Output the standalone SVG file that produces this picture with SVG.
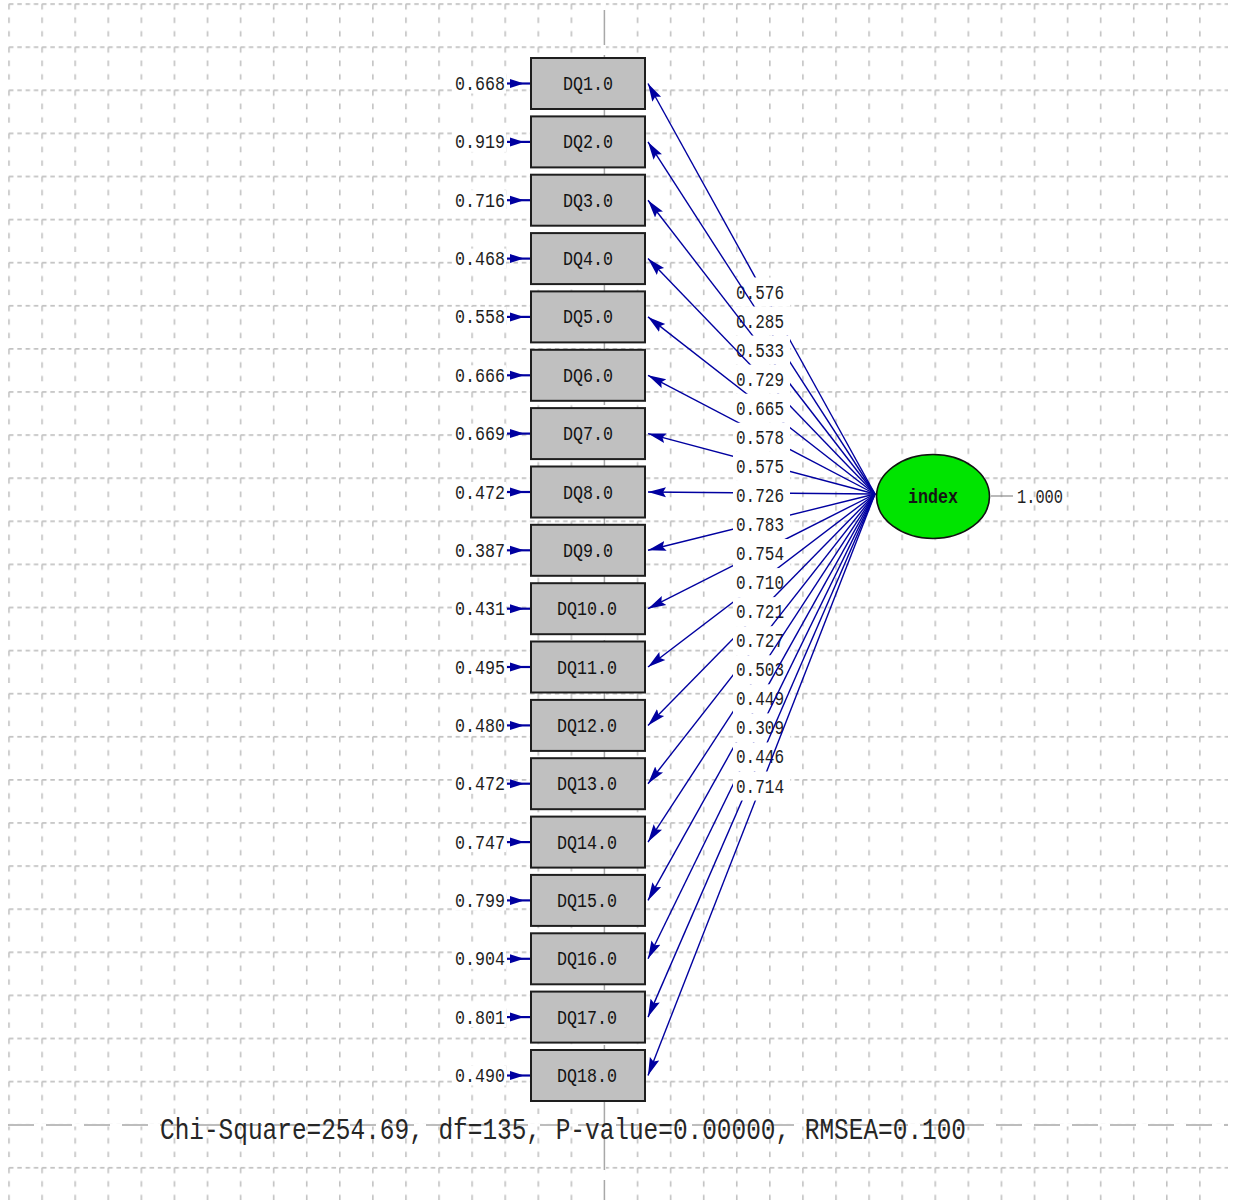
<svg xmlns="http://www.w3.org/2000/svg" width="1236" height="1200" viewBox="0 0 1236 1200">
<defs>
<style>
.g{fill:none;stroke:#c2c2c2;stroke-width:1.6}
.ax{fill:none;stroke:#a8a8a8;stroke-width:1.5}
.ln{stroke:#0000a0;stroke-width:1.4;fill:none}
.lb{fill:#ffffff}
.t{font-family:"Liberation Mono","DejaVu Sans Mono",monospace;font-size:20px;fill:#1e1e1e}
.bt{font-family:"Liberation Mono","DejaVu Sans Mono",monospace;font-size:20px;fill:#141414;text-anchor:middle}
.box{fill:#c0c0c0;stroke:#1e1e1e;stroke-width:2}
.err{stroke:#0000a0;stroke-width:2.2}
.eh{fill:#0000a0}
</style>
<pattern id="grid" patternUnits="userSpaceOnUse" x="8.2" y="3.2" width="33.08" height="43.1">
<path class="g" d="M0.8,0.8h4.5M9.07,0.8h4.5M17.34,0.8h4.5M25.61,0.8h4.5M0.8,0.8v5.5M0.8,14.3v5.5M0.8,27.8v5.5"/>
</pattern>
<marker id="ah" markerUnits="userSpaceOnUse" markerWidth="20" markerHeight="12" refX="18" refY="6" orient="auto" viewBox="0 0 20 12">
<path d="M0,1 L18,6 L0,11 L3,6 z" fill="#0000a0"/>
</marker>
</defs>
<rect width="1236" height="1200" fill="#ffffff"/>
<g id="grid-bg">
<rect x="8" y="3" width="1220" height="1197" fill="url(#grid)"/>
<path d="M604.4,0V1200M0,1125H1236" stroke="#ffffff" stroke-width="3" fill="none"/>
<path class="ax" d="M604.4,10V1200" stroke-dasharray="35 10"/>
<path class="ax" d="M8,1125H1228" stroke-dasharray="26 12"/>
</g>
<g id="connectors">
<g id="path-DQ1"><line class="ln" x1="875" y1="494" x2="648" y2="83.5" marker-end="url(#ah)"/><rect class="lb" x="733" y="277.47" width="57" height="29.06"/><text class="t" x="736" y="298.5" textLength="48" lengthAdjust="spacingAndGlyphs">0.576</text></g>
<g id="path-DQ2"><line class="ln" x1="875" y1="494" x2="648" y2="141.9" marker-end="url(#ah)"/><rect class="lb" x="733" y="306.53" width="57" height="29.06"/><text class="t" x="736" y="327.56" textLength="48" lengthAdjust="spacingAndGlyphs">0.285</text></g>
<g id="path-DQ3"><line class="ln" x1="875" y1="494" x2="648" y2="200.2" marker-end="url(#ah)"/><rect class="lb" x="733" y="335.59" width="57" height="29.06"/><text class="t" x="736" y="356.62" textLength="48" lengthAdjust="spacingAndGlyphs">0.533</text></g>
<g id="path-DQ4"><line class="ln" x1="875" y1="494" x2="648" y2="258.6" marker-end="url(#ah)"/><rect class="lb" x="733" y="364.65" width="57" height="29.06"/><text class="t" x="736" y="385.68" textLength="48" lengthAdjust="spacingAndGlyphs">0.729</text></g>
<g id="path-DQ5"><line class="ln" x1="875" y1="494" x2="648" y2="316.9" marker-end="url(#ah)"/><rect class="lb" x="733" y="393.71" width="57" height="29.06"/><text class="t" x="736" y="414.74" textLength="48" lengthAdjust="spacingAndGlyphs">0.665</text></g>
<g id="path-DQ6"><line class="ln" x1="875" y1="494" x2="648" y2="375.3" marker-end="url(#ah)"/><rect class="lb" x="733" y="422.77" width="57" height="29.06"/><text class="t" x="736" y="443.8" textLength="48" lengthAdjust="spacingAndGlyphs">0.578</text></g>
<g id="path-DQ7"><line class="ln" x1="875" y1="494" x2="648" y2="433.6" marker-end="url(#ah)"/><rect class="lb" x="733" y="451.83" width="57" height="29.06"/><text class="t" x="736" y="472.86" textLength="48" lengthAdjust="spacingAndGlyphs">0.575</text></g>
<g id="path-DQ8"><line class="ln" x1="875" y1="494" x2="648" y2="492" marker-end="url(#ah)"/><rect class="lb" x="733" y="480.89" width="57" height="29.06"/><text class="t" x="736" y="501.92" textLength="48" lengthAdjust="spacingAndGlyphs">0.726</text></g>
<g id="path-DQ9"><line class="ln" x1="875" y1="494" x2="648" y2="550.3" marker-end="url(#ah)"/><rect class="lb" x="733" y="509.95" width="57" height="29.06"/><text class="t" x="736" y="530.98" textLength="48" lengthAdjust="spacingAndGlyphs">0.783</text></g>
<g id="path-DQ10"><line class="ln" x1="875" y1="494" x2="648" y2="608.7" marker-end="url(#ah)"/><rect class="lb" x="733" y="539.01" width="57" height="29.06"/><text class="t" x="736" y="560.04" textLength="48" lengthAdjust="spacingAndGlyphs">0.754</text></g>
<g id="path-DQ11"><line class="ln" x1="875" y1="494" x2="648" y2="667" marker-end="url(#ah)"/><rect class="lb" x="733" y="568.07" width="57" height="29.06"/><text class="t" x="736" y="589.1" textLength="48" lengthAdjust="spacingAndGlyphs">0.710</text></g>
<g id="path-DQ12"><line class="ln" x1="875" y1="494" x2="648" y2="725.4" marker-end="url(#ah)"/><rect class="lb" x="733" y="597.13" width="57" height="29.06"/><text class="t" x="736" y="618.16" textLength="48" lengthAdjust="spacingAndGlyphs">0.721</text></g>
<g id="path-DQ13"><line class="ln" x1="875" y1="494" x2="648" y2="783.7" marker-end="url(#ah)"/><rect class="lb" x="733" y="626.19" width="57" height="29.06"/><text class="t" x="736" y="647.22" textLength="48" lengthAdjust="spacingAndGlyphs">0.727</text></g>
<g id="path-DQ14"><line class="ln" x1="875" y1="494" x2="648" y2="842.1" marker-end="url(#ah)"/><rect class="lb" x="733" y="655.25" width="57" height="29.06"/><text class="t" x="736" y="676.28" textLength="48" lengthAdjust="spacingAndGlyphs">0.503</text></g>
<g id="path-DQ15"><line class="ln" x1="875" y1="494" x2="648" y2="900.4" marker-end="url(#ah)"/><rect class="lb" x="733" y="684.31" width="57" height="29.06"/><text class="t" x="736" y="705.34" textLength="48" lengthAdjust="spacingAndGlyphs">0.449</text></g>
<g id="path-DQ16"><line class="ln" x1="875" y1="494" x2="648" y2="958.8" marker-end="url(#ah)"/><rect class="lb" x="733" y="713.37" width="57" height="29.06"/><text class="t" x="736" y="734.4" textLength="48" lengthAdjust="spacingAndGlyphs">0.309</text></g>
<g id="path-DQ17"><line class="ln" x1="875" y1="494" x2="648" y2="1017.1" marker-end="url(#ah)"/><rect class="lb" x="733" y="742.43" width="57" height="29.06"/><text class="t" x="736" y="763.46" textLength="48" lengthAdjust="spacingAndGlyphs">0.446</text></g>
<g id="path-DQ18"><line class="ln" x1="875" y1="494" x2="648" y2="1075.5" marker-end="url(#ah)"/><rect class="lb" x="733" y="771.49" width="57" height="29.06"/><text class="t" x="736" y="792.52" textLength="48" lengthAdjust="spacingAndGlyphs">0.714</text></g>
<g id="errors">
<g id="err-DQ1"><rect class="lb" x="453" y="73.5" width="53" height="20"/><text class="t" x="505" y="90" text-anchor="end" textLength="50" lengthAdjust="spacingAndGlyphs">0.668</text><line class="err" x1="507" y1="83.5" x2="530" y2="83.5"/><polygon class="eh" points="510,79 524,83.5 510,88"/></g>
<g id="err-DQ2"><rect class="lb" x="453" y="131.9" width="53" height="20"/><text class="t" x="505" y="148.4" text-anchor="end" textLength="50" lengthAdjust="spacingAndGlyphs">0.919</text><line class="err" x1="507" y1="141.9" x2="530" y2="141.9"/><polygon class="eh" points="510,137.4 524,141.9 510,146.4"/></g>
<g id="err-DQ3"><rect class="lb" x="453" y="190.2" width="53" height="20"/><text class="t" x="505" y="206.7" text-anchor="end" textLength="50" lengthAdjust="spacingAndGlyphs">0.716</text><line class="err" x1="507" y1="200.2" x2="530" y2="200.2"/><polygon class="eh" points="510,195.7 524,200.2 510,204.7"/></g>
<g id="err-DQ4"><rect class="lb" x="453" y="248.6" width="53" height="20"/><text class="t" x="505" y="265.1" text-anchor="end" textLength="50" lengthAdjust="spacingAndGlyphs">0.468</text><line class="err" x1="507" y1="258.6" x2="530" y2="258.6"/><polygon class="eh" points="510,254.1 524,258.6 510,263.1"/></g>
<g id="err-DQ5"><rect class="lb" x="453" y="306.9" width="53" height="20"/><text class="t" x="505" y="323.4" text-anchor="end" textLength="50" lengthAdjust="spacingAndGlyphs">0.558</text><line class="err" x1="507" y1="316.9" x2="530" y2="316.9"/><polygon class="eh" points="510,312.4 524,316.9 510,321.4"/></g>
<g id="err-DQ6"><rect class="lb" x="453" y="365.3" width="53" height="20"/><text class="t" x="505" y="381.8" text-anchor="end" textLength="50" lengthAdjust="spacingAndGlyphs">0.666</text><line class="err" x1="507" y1="375.3" x2="530" y2="375.3"/><polygon class="eh" points="510,370.8 524,375.3 510,379.8"/></g>
<g id="err-DQ7"><rect class="lb" x="453" y="423.6" width="53" height="20"/><text class="t" x="505" y="440.1" text-anchor="end" textLength="50" lengthAdjust="spacingAndGlyphs">0.669</text><line class="err" x1="507" y1="433.6" x2="530" y2="433.6"/><polygon class="eh" points="510,429.1 524,433.6 510,438.1"/></g>
<g id="err-DQ8"><rect class="lb" x="453" y="482" width="53" height="20"/><text class="t" x="505" y="498.5" text-anchor="end" textLength="50" lengthAdjust="spacingAndGlyphs">0.472</text><line class="err" x1="507" y1="492" x2="530" y2="492"/><polygon class="eh" points="510,487.5 524,492 510,496.5"/></g>
<g id="err-DQ9"><rect class="lb" x="453" y="540.3" width="53" height="20"/><text class="t" x="505" y="556.8" text-anchor="end" textLength="50" lengthAdjust="spacingAndGlyphs">0.387</text><line class="err" x1="507" y1="550.3" x2="530" y2="550.3"/><polygon class="eh" points="510,545.8 524,550.3 510,554.8"/></g>
<g id="err-DQ10"><rect class="lb" x="453" y="598.7" width="53" height="20"/><text class="t" x="505" y="615.2" text-anchor="end" textLength="50" lengthAdjust="spacingAndGlyphs">0.431</text><line class="err" x1="507" y1="608.7" x2="530" y2="608.7"/><polygon class="eh" points="510,604.2 524,608.7 510,613.2"/></g>
<g id="err-DQ11"><rect class="lb" x="453" y="657" width="53" height="20"/><text class="t" x="505" y="673.5" text-anchor="end" textLength="50" lengthAdjust="spacingAndGlyphs">0.495</text><line class="err" x1="507" y1="667" x2="530" y2="667"/><polygon class="eh" points="510,662.5 524,667 510,671.5"/></g>
<g id="err-DQ12"><rect class="lb" x="453" y="715.4" width="53" height="20"/><text class="t" x="505" y="731.9" text-anchor="end" textLength="50" lengthAdjust="spacingAndGlyphs">0.480</text><line class="err" x1="507" y1="725.4" x2="530" y2="725.4"/><polygon class="eh" points="510,720.9 524,725.4 510,729.9"/></g>
<g id="err-DQ13"><rect class="lb" x="453" y="773.7" width="53" height="20"/><text class="t" x="505" y="790.2" text-anchor="end" textLength="50" lengthAdjust="spacingAndGlyphs">0.472</text><line class="err" x1="507" y1="783.7" x2="530" y2="783.7"/><polygon class="eh" points="510,779.2 524,783.7 510,788.2"/></g>
<g id="err-DQ14"><rect class="lb" x="453" y="832.1" width="53" height="20"/><text class="t" x="505" y="848.6" text-anchor="end" textLength="50" lengthAdjust="spacingAndGlyphs">0.747</text><line class="err" x1="507" y1="842.1" x2="530" y2="842.1"/><polygon class="eh" points="510,837.6 524,842.1 510,846.6"/></g>
<g id="err-DQ15"><rect class="lb" x="453" y="890.4" width="53" height="20"/><text class="t" x="505" y="906.9" text-anchor="end" textLength="50" lengthAdjust="spacingAndGlyphs">0.799</text><line class="err" x1="507" y1="900.4" x2="530" y2="900.4"/><polygon class="eh" points="510,895.9 524,900.4 510,904.9"/></g>
<g id="err-DQ16"><rect class="lb" x="453" y="948.8" width="53" height="20"/><text class="t" x="505" y="965.3" text-anchor="end" textLength="50" lengthAdjust="spacingAndGlyphs">0.904</text><line class="err" x1="507" y1="958.8" x2="530" y2="958.8"/><polygon class="eh" points="510,954.3 524,958.8 510,963.3"/></g>
<g id="err-DQ17"><rect class="lb" x="453" y="1007.1" width="53" height="20"/><text class="t" x="505" y="1023.6" text-anchor="end" textLength="50" lengthAdjust="spacingAndGlyphs">0.801</text><line class="err" x1="507" y1="1017.1" x2="530" y2="1017.1"/><polygon class="eh" points="510,1012.6 524,1017.1 510,1021.6"/></g>
<g id="err-DQ18"><rect class="lb" x="453" y="1065.5" width="53" height="20"/><text class="t" x="505" y="1082" text-anchor="end" textLength="50" lengthAdjust="spacingAndGlyphs">0.490</text><line class="err" x1="507" y1="1075.5" x2="530" y2="1075.5"/><polygon class="eh" points="510,1071 524,1075.5 510,1080"/></g>
</g>
<g id="var-index"><line x1="991" y1="496" x2="1013" y2="496" stroke="#8a8a8a" stroke-width="1.2"/><text class="t" x="1017" y="503" textLength="46" lengthAdjust="spacingAndGlyphs">1.000</text></g>
</g>
<g id="node-DQ1"><rect class="box" x="531" y="58" width="114" height="51"/><text class="bt" x="588" y="90" textLength="50" lengthAdjust="spacingAndGlyphs">DQ1.0</text></g>
<g id="node-DQ2"><rect class="box" x="531" y="116.4" width="114" height="51"/><text class="bt" x="588" y="148.4" textLength="50" lengthAdjust="spacingAndGlyphs">DQ2.0</text></g>
<g id="node-DQ3"><rect class="box" x="531" y="174.7" width="114" height="51"/><text class="bt" x="588" y="206.7" textLength="50" lengthAdjust="spacingAndGlyphs">DQ3.0</text></g>
<g id="node-DQ4"><rect class="box" x="531" y="233.1" width="114" height="51"/><text class="bt" x="588" y="265.1" textLength="50" lengthAdjust="spacingAndGlyphs">DQ4.0</text></g>
<g id="node-DQ5"><rect class="box" x="531" y="291.4" width="114" height="51"/><text class="bt" x="588" y="323.4" textLength="50" lengthAdjust="spacingAndGlyphs">DQ5.0</text></g>
<g id="node-DQ6"><rect class="box" x="531" y="349.8" width="114" height="51"/><text class="bt" x="588" y="381.8" textLength="50" lengthAdjust="spacingAndGlyphs">DQ6.0</text></g>
<g id="node-DQ7"><rect class="box" x="531" y="408.1" width="114" height="51"/><text class="bt" x="588" y="440.1" textLength="50" lengthAdjust="spacingAndGlyphs">DQ7.0</text></g>
<g id="node-DQ8"><rect class="box" x="531" y="466.5" width="114" height="51"/><text class="bt" x="588" y="498.5" textLength="50" lengthAdjust="spacingAndGlyphs">DQ8.0</text></g>
<g id="node-DQ9"><rect class="box" x="531" y="524.8" width="114" height="51"/><text class="bt" x="588" y="556.8" textLength="50" lengthAdjust="spacingAndGlyphs">DQ9.0</text></g>
<g id="node-DQ10"><rect class="box" x="531" y="583.2" width="114" height="51"/><text class="bt" x="587" y="615.2" textLength="60" lengthAdjust="spacingAndGlyphs">DQ10.0</text></g>
<g id="node-DQ11"><rect class="box" x="531" y="641.5" width="114" height="51"/><text class="bt" x="587" y="673.5" textLength="60" lengthAdjust="spacingAndGlyphs">DQ11.0</text></g>
<g id="node-DQ12"><rect class="box" x="531" y="699.9" width="114" height="51"/><text class="bt" x="587" y="731.9" textLength="60" lengthAdjust="spacingAndGlyphs">DQ12.0</text></g>
<g id="node-DQ13"><rect class="box" x="531" y="758.2" width="114" height="51"/><text class="bt" x="587" y="790.2" textLength="60" lengthAdjust="spacingAndGlyphs">DQ13.0</text></g>
<g id="node-DQ14"><rect class="box" x="531" y="816.6" width="114" height="51"/><text class="bt" x="587" y="848.6" textLength="60" lengthAdjust="spacingAndGlyphs">DQ14.0</text></g>
<g id="node-DQ15"><rect class="box" x="531" y="874.9" width="114" height="51"/><text class="bt" x="587" y="906.9" textLength="60" lengthAdjust="spacingAndGlyphs">DQ15.0</text></g>
<g id="node-DQ16"><rect class="box" x="531" y="933.3" width="114" height="51"/><text class="bt" x="587" y="965.3" textLength="60" lengthAdjust="spacingAndGlyphs">DQ16.0</text></g>
<g id="node-DQ17"><rect class="box" x="531" y="991.6" width="114" height="51"/><text class="bt" x="587" y="1023.6" textLength="60" lengthAdjust="spacingAndGlyphs">DQ17.0</text></g>
<g id="node-DQ18"><rect class="box" x="531" y="1050" width="114" height="51"/><text class="bt" x="587" y="1082" textLength="60" lengthAdjust="spacingAndGlyphs">DQ18.0</text></g>
<g id="node-index"><ellipse cx="933" cy="496.5" rx="56.5" ry="42" fill="#00e400" stroke="#111111" stroke-width="1.6"/><text class="bt" x="933" y="503" font-weight="bold" textLength="50" lengthAdjust="spacingAndGlyphs">index</text></g>
<text id="fit-stats" x="160" y="1139" font-family="'Liberation Mono','DejaVu Sans Mono',monospace" font-size="29" fill="#262626" textLength="806" lengthAdjust="spacingAndGlyphs">Chi-Square=254.69, df=135, P-value=0.00000, RMSEA=0.100</text>
</svg>
